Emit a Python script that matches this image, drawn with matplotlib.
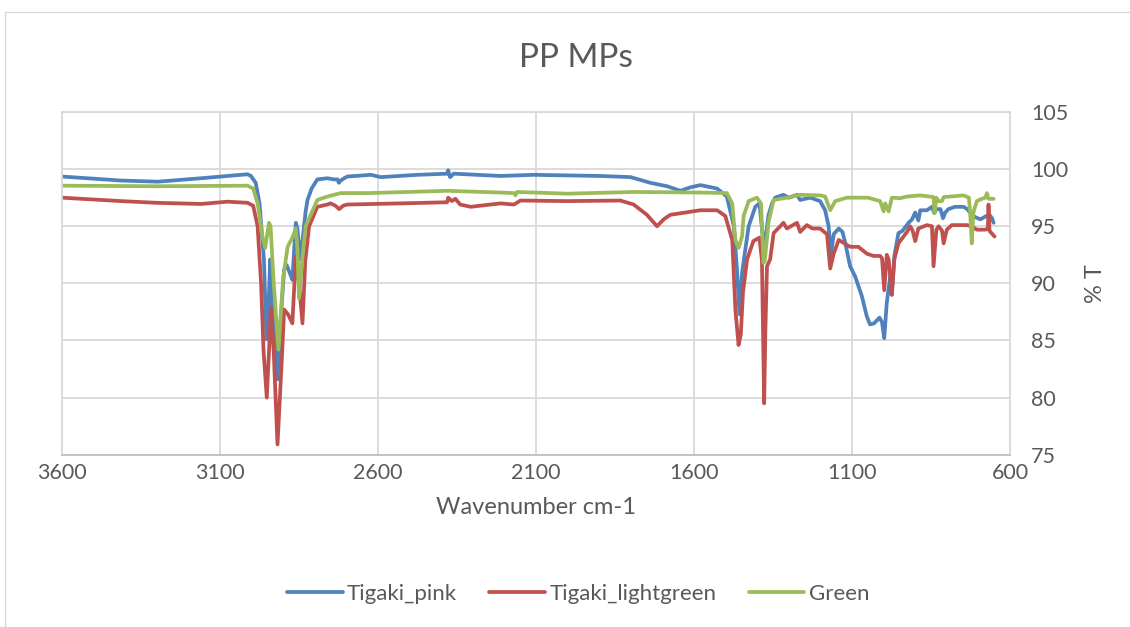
import matplotlib
matplotlib.use("Agg")
import matplotlib.pyplot as plt
from matplotlib.patches import Rectangle

# FTIR transmission spectra of polypropylene microplastics
pink_wn = [3600, 3413, 3297, 3160, 3034, 3013, 3002, 2987, 2975, 2961, 2953, 2948, 2941,
           2935, 2918, 2905, 2897, 2889, 2875, 2871, 2860, 2855, 2847, 2838, 2829, 2823,
           2810, 2792, 2760, 2740, 2728, 2724, 2718, 2707, 2697, 2623, 2591, 2475, 2381,
           2378, 2372, 2360, 2212, 2108, 1896, 1801, 1738, 1685, 1643, 1612, 1580, 1527,
           1496, 1474, 1464, 1456, 1448, 1440, 1427, 1406, 1393, 1380, 1376, 1364, 1353,
           1343, 1317, 1300, 1274, 1264, 1232, 1201, 1185, 1174, 1167, 1158, 1142, 1130,
           1121, 1106, 1090, 1069, 1053, 1043, 1030, 1013, 1005, 998, 990, 979, 974, 966,
           953, 940, 921, 910, 900, 890, 884, 863, 847, 840, 833, 820, 812, 805, 795, 774,
           747, 735, 721, 710, 694, 678, 665, 657, 652]
pink_t = [99.35, 99.0, 98.9, 99.2, 99.5, 99.55, 99.4, 98.8, 97.0, 92.1, 85.1, 87.0, 92.1,
          88.0, 81.6, 88.0, 91.2, 91.6, 90.6, 90.3, 95.3, 94.8, 92.1, 94.0, 96.3, 97.3,
          98.3, 99.1, 99.2, 99.1, 99.1, 98.8, 99.0, 99.2, 99.35, 99.5, 99.3, 99.5, 99.6,
          99.9, 99.3, 99.6, 99.4, 99.5, 99.4, 99.3, 98.8, 98.5, 98.1, 98.4, 98.6, 98.3,
          97.6, 95.0, 91.2, 87.3, 90.9, 92.5, 95.0, 96.7, 97.0, 93.5, 93.5, 96.0, 97.0,
          97.5, 97.75, 97.5, 97.75, 97.3, 97.5, 97.2, 96.4, 95.0, 92.4, 94.3, 94.8, 94.5,
          93.5, 91.5, 90.6, 88.9, 87.1, 86.4, 86.5, 87.0, 86.6, 85.2, 88.3, 90.6, 89.0, 92.4,
          94.4, 94.6, 95.3, 95.6, 96.2, 95.5, 96.4, 96.4, 96.7, 96.15, 96.5, 96.5, 95.7, 96.2,
          96.5, 96.7, 96.7, 96.5, 96.0, 95.8, 95.6, 95.85, 96.0, 95.7, 95.3]

lightgreen_wn = [3600, 3413, 3300, 3160, 3076, 3013, 2995, 2981, 2970, 2962, 2952, 2945,
                 2939, 2930, 2918, 2905, 2897, 2885, 2871, 2860, 2850, 2839, 2830, 2818,
                 2792, 2760, 2750, 2735, 2723, 2710, 2697, 2528, 2381, 2378, 2366, 2355,
                 2340, 2307, 2212, 2170, 2149, 2001, 1833, 1791, 1749, 1717, 1696, 1675,
                 1580, 1527, 1501, 1479, 1469, 1459, 1452, 1445, 1432, 1412, 1393, 1385,
                 1378, 1374, 1369, 1359, 1348, 1327, 1317, 1306, 1274, 1264, 1243, 1225,
                 1201, 1179, 1169, 1158, 1142, 1130, 1106, 1080, 1053, 1032, 1011, 1005,
                 998, 990, 984, 974, 966, 953, 926, 916, 908, 900, 890, 863, 847, 842, 833,
                 826, 815, 810, 800, 784, 737, 721, 705, 678, 670, 668, 665, 657, 649]
lightgreen_t = [97.5, 97.2, 97.05, 96.95, 97.15, 97.05, 96.8, 95.0, 90.0, 84.0, 80.0, 84.0,
                87.85, 84.0, 75.9, 83.0, 87.7, 87.3, 86.5, 92.4, 90.0, 86.5, 92.0, 95.0,
                96.7, 96.9, 97.0, 96.8, 96.5, 96.8, 96.9, 97.0, 97.1, 97.5, 97.2, 97.4,
                96.9, 96.7, 97.0, 96.9, 97.25, 97.2, 97.25, 96.9, 96.0, 95.0, 95.6, 96.0,
                96.4, 96.4, 95.9, 93.8, 87.7, 84.6, 85.5, 89.2, 92.1, 93.7, 94.0, 92.0,
                79.5, 86.0, 91.5, 92.1, 94.4, 95.0, 95.3, 94.8, 95.3, 94.5, 95.1, 94.8,
                94.8, 94.3, 91.3, 92.6, 93.8, 93.6, 93.2, 93.2, 92.6, 92.4, 92.4, 92.2,
                89.4, 92.5, 92.1, 89.0, 92.1, 93.5, 94.5, 95.0, 94.6, 93.7, 94.8, 95.1, 95.0, 91.5, 94.7,
                95.0, 94.6, 93.5, 94.7, 95.1, 95.1, 95.0, 94.7, 94.7, 94.8, 96.9, 94.6, 94.35, 94.1]

green_wn = [3600, 3300, 3013, 2995, 2981, 2965, 2957, 2945, 2940, 2930, 2915, 2900, 2886,
            2871, 2860, 2855, 2850, 2840, 2829, 2792, 2760, 2718, 2633, 2381, 2212, 2170,
            2165, 2160, 2001, 1791, 1580, 1496, 1479, 1469, 1459, 1448, 1443, 1427, 1401,
            1388, 1380, 1376, 1364, 1348, 1306, 1264, 1201, 1185, 1169, 1153, 1116, 1050,
            1011, 1000, 995, 984, 974, 948, 926, 884, 842, 839, 833, 826, 815, 810, 747,
            730, 726, 721, 716, 705, 689, 678, 673, 668, 652]
green_t = [98.55, 98.5, 98.55, 98.3, 97.0, 94.0, 93.1, 95.3, 95.0, 90.0, 84.2, 90.5, 93.2,
           94.0, 94.8, 93.0, 88.7, 92.0, 95.0, 97.3, 97.6, 97.9, 97.9, 98.1, 97.95, 97.9,
           97.7, 98.0, 97.85, 98.0, 97.95, 97.9, 97.0, 93.8, 93.1, 94.1, 95.9, 97.2, 97.5,
           97.0, 91.8, 92.0, 95.4, 97.3, 97.5, 97.75, 97.7, 97.6, 96.4, 97.2, 97.5, 97.5,
           97.2, 96.3, 97.0, 96.3, 97.5, 97.45, 97.6, 97.7, 97.55, 96.15, 97.5, 97.2, 97.2,
           97.55, 97.7, 97.5, 96.15, 93.5, 96.2, 97.2, 97.4, 97.5, 97.9, 97.4, 97.4]

series = [("Tigaki_pink", pink_wn, pink_t, "#4f81bd"),
          ("Tigaki_lightgreen", lightgreen_wn, lightgreen_t, "#c0504d"),
          ("Green", green_wn, green_t, "#9bbb59")]

x_ticks = [3600, 3100, 2600, 2100, 1600, 1100, 600]
y_ticks = [75, 80, 85, 90, 95, 100, 105]

FONT = ["Lato", "DejaVu Sans"]
TEXT = "#595959"
GRID = "#d9d9d9"

plt.rcParams["font.family"] = FONT

fig = plt.figure(figsize=(11.3, 6.27), dpi=100)
fig.patches.append(Rectangle((5 / 1130, -0.1), 1.2, 1 - 12 / 627 + 0.1,
                             transform=fig.transFigure, fill=False,
                             edgecolor=GRID, linewidth=1.0))

ax = fig.add_axes([62 / 1130, 1 - 454.7 / 627, 948 / 1130, (454.7 - 112) / 627])

for name, wn, t, color in series:
    ax.plot(wn, t, color=color, linewidth=2.7, label=name, solid_joinstyle="round",
            solid_capstyle="round")

ax.set_xlim(3600, 600)
ax.set_ylim(75, 105)
ax.set_xticks(x_ticks)
ax.set_yticks(y_ticks)
ax.yaxis.tick_right()
ax.yaxis.set_label_position("right")
ax.grid(True, color=GRID, linewidth=1.3)
ax.set_axisbelow(True)
ax.tick_params(axis="both", length=0, labelsize=15.5, labelcolor=TEXT)
ax.tick_params(axis="x", pad=6)
ax.tick_params(axis="y", pad=15)
for side, sp in ax.spines.items():
    sp.set_color(GRID)
    sp.set_linewidth(1.3)
ax.spines["bottom"].set_color("#bfbfbf")

ax.set_xlabel("Wavenumber cm-1", fontsize=17, color=TEXT, labelpad=10)
ax.set_ylabel("% T", fontsize=17, color=TEXT, labelpad=12)
fig.text(576 / 1130, 1 - 58 / 627, "PP MPs", ha="center", va="center",
         fontsize=24, color=TEXT)

fig.legend(loc="center", bbox_to_anchor=(578 / 1130, 1 - 594 / 627), ncol=3,
           frameon=False, fontsize=16, labelcolor=TEXT, handlelength=2.5,
           handletextpad=0.2, columnspacing=1.45)

fig.savefig("out.png", dpi=100)
